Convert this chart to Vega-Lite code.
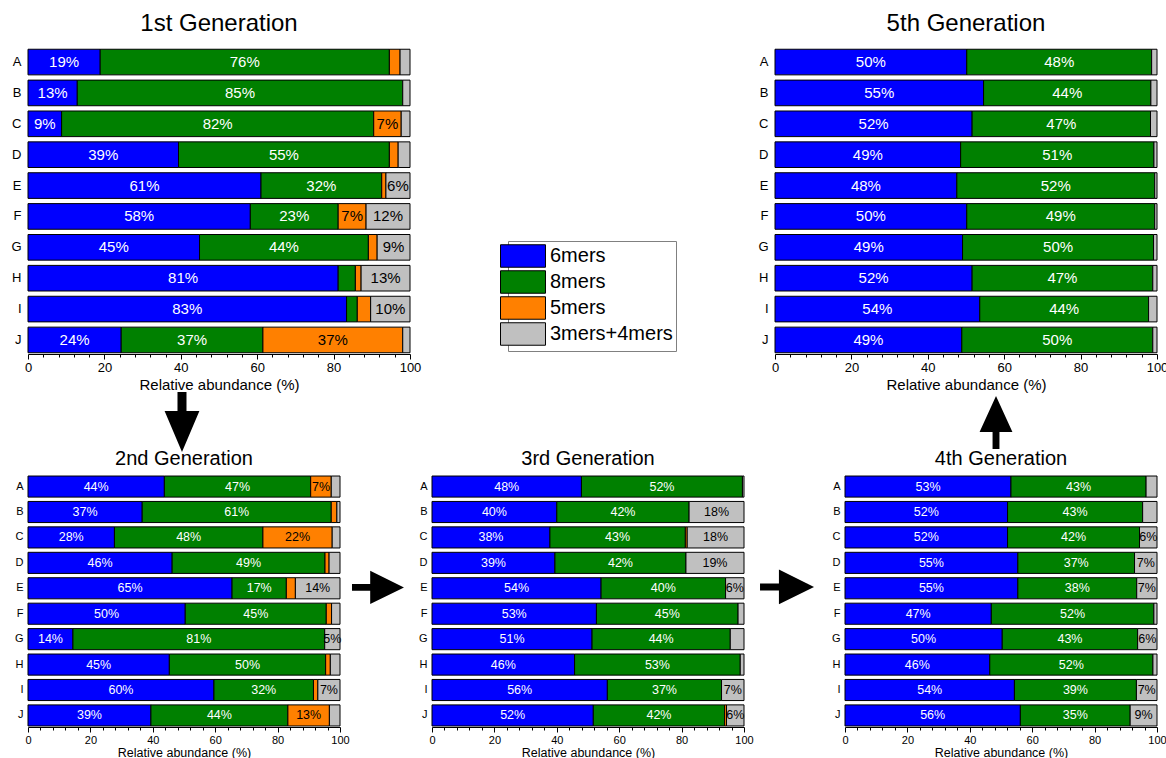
{
"$schema": "https://vega.github.io/schema/vega-lite/v6.json",
"padding": {"left": 10, "top": 12, "right": 0, "bottom": 0},
"datasets": {"d": [
{"g":"1st","s":"A","6mers":18.9,"8mers":75.7,"5mers":2.8,"3mers+4mers":2.6},
{"g":"1st","s":"B","6mers":12.9,"8mers":85.2,"5mers":0,"3mers+4mers":1.9},
{"g":"1st","s":"C","6mers":8.8,"8mers":81.7,"5mers":7.2,"3mers+4mers":2.3},
{"g":"1st","s":"D","6mers":39.4,"8mers":55.2,"5mers":2.3,"3mers+4mers":3.1},
{"g":"1st","s":"E","6mers":61.0,"8mers":31.6,"5mers":1.1,"3mers+4mers":6.3},
{"g":"1st","s":"F","6mers":58.2,"8mers":23.0,"5mers":7.3,"3mers+4mers":11.5},
{"g":"1st","s":"G","6mers":44.9,"8mers":44.2,"5mers":2.3,"3mers+4mers":8.6},
{"g":"1st","s":"H","6mers":81.2,"8mers":4.5,"5mers":1.5,"3mers+4mers":12.8},
{"g":"1st","s":"I","6mers":83.4,"8mers":2.8,"5mers":3.5,"3mers+4mers":10.3},
{"g":"1st","s":"J","6mers":24.4,"8mers":37.1,"5mers":36.6,"3mers+4mers":1.9},
{"g":"2nd","s":"A","6mers":43.7,"8mers":46.9,"5mers":6.6,"3mers+4mers":2.8},
{"g":"2nd","s":"B","6mers":36.6,"8mers":60.6,"5mers":1.8,"3mers+4mers":1.0},
{"g":"2nd","s":"C","6mers":27.7,"8mers":47.6,"5mers":22.2,"3mers+4mers":2.5},
{"g":"2nd","s":"D","6mers":46.2,"8mers":49.0,"5mers":1.3,"3mers+4mers":3.5},
{"g":"2nd","s":"E","6mers":65.4,"8mers":17.4,"5mers":2.9,"3mers+4mers":14.3},
{"g":"2nd","s":"F","6mers":50.4,"8mers":45.2,"5mers":1.7,"3mers+4mers":2.7},
{"g":"2nd","s":"G","6mers":14.4,"8mers":80.7,"5mers":0,"3mers+4mers":4.9},
{"g":"2nd","s":"H","6mers":45.3,"8mers":50.1,"5mers":1.5,"3mers+4mers":3.1},
{"g":"2nd","s":"I","6mers":59.6,"8mers":31.9,"5mers":1.4,"3mers+4mers":7.1},
{"g":"2nd","s":"J","6mers":39.4,"8mers":43.9,"5mers":13.3,"3mers+4mers":3.4},
{"g":"3rd","s":"A","6mers":47.9,"8mers":51.6,"5mers":0,"3mers+4mers":0.5},
{"g":"3rd","s":"B","6mers":40.0,"8mers":42.4,"5mers":0,"3mers+4mers":17.6},
{"g":"3rd","s":"C","6mers":37.8,"8mers":43.4,"5mers":0.6,"3mers+4mers":18.2},
{"g":"3rd","s":"D","6mers":39.4,"8mers":42.0,"5mers":0,"3mers+4mers":18.6},
{"g":"3rd","s":"E","6mers":54.2,"8mers":39.9,"5mers":0,"3mers+4mers":5.9},
{"g":"3rd","s":"F","6mers":52.7,"8mers":45.4,"5mers":0,"3mers+4mers":1.9},
{"g":"3rd","s":"G","6mers":51.3,"8mers":44.3,"5mers":0,"3mers+4mers":4.4},
{"g":"3rd","s":"H","6mers":45.7,"8mers":53.1,"5mers":0,"3mers+4mers":1.2},
{"g":"3rd","s":"I","6mers":56.2,"8mers":36.6,"5mers":0,"3mers+4mers":7.2},
{"g":"3rd","s":"J","6mers":51.7,"8mers":42.1,"5mers":0.6,"3mers+4mers":5.6},
{"g":"4th","s":"A","6mers":53.2,"8mers":43.3,"5mers":0,"3mers+4mers":3.5},
{"g":"4th","s":"B","6mers":52.1,"8mers":43.3,"5mers":0,"3mers+4mers":4.6},
{"g":"4th","s":"C","6mers":52.1,"8mers":42.3,"5mers":0,"3mers+4mers":5.6},
{"g":"4th","s":"D","6mers":55.4,"8mers":37.4,"5mers":0,"3mers+4mers":7.2},
{"g":"4th","s":"E","6mers":55.4,"8mers":38.1,"5mers":0,"3mers+4mers":6.5},
{"g":"4th","s":"F","6mers":46.9,"8mers":52.1,"5mers":0,"3mers+4mers":1.0},
{"g":"4th","s":"G","6mers":50.4,"8mers":43.4,"5mers":0,"3mers+4mers":6.2},
{"g":"4th","s":"H","6mers":46.4,"8mers":52.3,"5mers":0,"3mers+4mers":1.3},
{"g":"4th","s":"I","6mers":54.3,"8mers":39.1,"5mers":0,"3mers+4mers":6.6},
{"g":"4th","s":"J","6mers":56.2,"8mers":35.2,"5mers":0,"3mers+4mers":8.6},
{"g":"5th","s":"A","6mers":50.2,"8mers":48.4,"5mers":0,"3mers+4mers":1.4},
{"g":"5th","s":"B","6mers":54.6,"8mers":43.8,"5mers":0,"3mers+4mers":1.6},
{"g":"5th","s":"C","6mers":51.6,"8mers":46.7,"5mers":0,"3mers+4mers":1.7},
{"g":"5th","s":"D","6mers":48.6,"8mers":50.6,"5mers":0,"3mers+4mers":0.8},
{"g":"5th","s":"E","6mers":47.6,"8mers":51.8,"5mers":0,"3mers+4mers":0.6},
{"g":"5th","s":"F","6mers":50.2,"8mers":49.2,"5mers":0,"3mers+4mers":0.6},
{"g":"5th","s":"G","6mers":49.1,"8mers":50.0,"5mers":0,"3mers+4mers":0.9},
{"g":"5th","s":"H","6mers":51.6,"8mers":47.3,"5mers":0,"3mers+4mers":1.1},
{"g":"5th","s":"I","6mers":53.6,"8mers":44.2,"5mers":0,"3mers+4mers":2.2},
{"g":"5th","s":"J","6mers":48.9,"8mers":50.0,"5mers":0,"3mers+4mers":1.1}
]},
"spacing": -12,
"vconcat": [
{"hconcat": [
 {"width": 382, "height": 306,
  "title": {"text": "1st Generation", "fontSize": 24, "offset": 12},
  "data": {"name": "d"},
  "transform": [
   {"filter": "datum.g === '1st'"},
   {"fold": ["6mers","8mers","5mers","3mers+4mers"], "as": ["type","v"]},
   {"calculate": "indexof(['6mers','8mers','5mers','3mers+4mers'], datum.type)", "as": "ord"},
   {"stack": "v", "groupby": ["s"], "sort": [{"field": "ord", "order": "ascending"}], "as": ["x0","x1"]},
   {"calculate": "(datum.x0+datum.x1)/2", "as": "mid"},
   {"calculate": "round(datum.v)+'%'", "as": "lab"}
  ],
  "encoding": {"y": {"field": "s", "type": "nominal", "title": null, "scale": {"paddingInner": 0.17, "paddingOuter": 0.04}, "axis": {"ticks": false, "domain": false, "labelFontSize": 13, "labelPadding": 7}}},
  "layer": [
   {"transform": [{"filter": "datum.v > 0"}],
    "mark": {"type": "bar", "stroke": "black", "strokeWidth": 1},
    "encoding": {
     "x": {"field": "x0", "type": "quantitative", "scale": {"domain": [0,100], "nice": false}, "axis": {"orient": "bottom", "values": [0,20,40,60,80,100], "tickSize": 5, "labelFontSize": 13, "labelFlush": false, "labelPadding": 2, "title": "Relative abundance (%)", "titleFontSize": 15, "titlePadding": 3}},
     "x2": {"field": "x1"},
     "color": {"field": "type", "type": "nominal", "scale": {"domain": ["6mers","8mers","5mers","3mers+4mers"], "range": ["#0000ff","#008000","#ff8000","#c0c0c0"]},
      "legend": {"orient": "none", "legendX": 480, "legendY": 193, "title": null, "symbolType": "M-2,-1H2V1H-2Z", "symbolSize": 506, "symbolStrokeColor": "black", "symbolStrokeWidth": 1, "symbolOpacity": 1, "labelFontSize": 20, "labelColor": "black", "strokeColor": "#808080", "fillColor": "white", "padding": 3, "rowPadding": -2.5, "labelOffset": 15}}
    }},
   {"transform": [{"filter": "datum.v >= 4.8"}],
    "mark": {"type": "text", "fontSize": 15},
    "encoding": {
     "x": {"field": "mid", "type": "quantitative", "axis": {"orient": "bottom", "values": [4,8,12,16,24,28,32,36,44,48,52,56,64,68,72,76,84,88,92,96], "tickSize": 3, "labels": false, "domain": false, "title": null}},
     "text": {"field": "lab"},
     "color": {"condition": {"test": "datum.ord < 2", "value": "white"}, "value": "black"}
    }}
  ],
  "resolve": {"axis": {"x": "independent"}}
 },
 {"width": 382, "height": 306,
  "title": {"text": "5th Generation", "fontSize": 24, "offset": 12},
  "data": {"name": "d"},
  "transform": [
   {"filter": "datum.g === '5th'"},
   {"fold": ["6mers","8mers","5mers","3mers+4mers"], "as": ["type","v"]},
   {"calculate": "indexof(['6mers','8mers','5mers','3mers+4mers'], datum.type)", "as": "ord"},
   {"stack": "v", "groupby": ["s"], "sort": [{"field": "ord", "order": "ascending"}], "as": ["x0","x1"]},
   {"calculate": "(datum.x0+datum.x1)/2", "as": "mid"},
   {"calculate": "round(datum.v)+'%'", "as": "lab"}
  ],
  "encoding": {"y": {"field": "s", "type": "nominal", "title": null, "scale": {"paddingInner": 0.17, "paddingOuter": 0.04}, "axis": {"ticks": false, "domain": false, "labelFontSize": 13, "labelPadding": 7}}},
  "layer": [
   {"transform": [{"filter": "datum.v > 0"}],
    "mark": {"type": "bar", "stroke": "black", "strokeWidth": 1},
    "encoding": {
     "x": {"field": "x0", "type": "quantitative", "scale": {"domain": [0,100], "nice": false}, "axis": {"orient": "bottom", "values": [0,20,40,60,80,100], "tickSize": 5, "labelFontSize": 13, "labelFlush": false, "labelPadding": 2, "title": "Relative abundance (%)", "titleFontSize": 15, "titlePadding": 3}},
     "x2": {"field": "x1"},
     "color": {"field": "type", "type": "nominal", "scale": {"domain": ["6mers","8mers","5mers","3mers+4mers"], "range": ["#0000ff","#008000","#ff8000","#c0c0c0"]}, "legend": null}
    }},
   {"transform": [{"filter": "datum.v >= 4.8"}],
    "mark": {"type": "text", "fontSize": 15},
    "encoding": {
     "x": {"field": "mid", "type": "quantitative", "axis": {"orient": "bottom", "values": [4,8,12,16,24,28,32,36,44,48,52,56,64,68,72,76,84,88,92,96], "tickSize": 3, "labels": false, "domain": false, "title": null}},
     "text": {"field": "lab"},
     "color": {"condition": {"test": "datum.ord < 2", "value": "white"}, "value": "black"}
    }}
  ],
  "resolve": {"axis": {"x": "independent"}}
 }
],
"spacing": 365, "bounds": "flush", "resolve": {"legend": {"color": "independent"}}},
{"width": 1129, "height": 69, "data": {"values": [{}]},
 "layer": [
  {"mark": {"type": "point", "shape": "M-0.15,-1L0.15,-1L0.15,-0.37L0.58,-0.37L0,1L-0.58,-0.37L-0.15,-0.37Z", "size": 3600, "filled": true, "color": "black", "opacity": 1, "strokeWidth": 0},
   "encoding": {"x": {"datum": 0.1364, "type": "quantitative", "scale": {"domain": [0,1], "nice": false, "zero": false}, "axis": null}, "y": {"datum": 0.435, "type": "quantitative", "scale": {"domain": [0,1], "reverse": true, "nice": false, "zero": false}, "axis": null}}},
  {"mark": {"type": "point", "shape": "M-0.13,1L-0.13,0.36L-0.62,0.36L0,-1L0.62,0.36L0.13,0.36L0.13,1Z", "size": 2809, "filled": true, "color": "black", "opacity": 1, "strokeWidth": 0},
   "encoding": {"x": {"datum": 0.8574, "type": "quantitative", "scale": {"domain": [0,1], "nice": false, "zero": false}, "axis": null}, "y": {"datum": 0.442, "type": "quantitative", "scale": {"domain": [0,1], "reverse": true, "nice": false, "zero": false}, "axis": null}}}
 ]
},
{"hconcat": [
 {"width": 312, "height": 252,
  "title": {"text": "2nd Generation", "fontSize": 20, "offset": 6},
  "data": {"name": "d"},
  "transform": [
   {"filter": "datum.g === '2nd'"},
   {"fold": ["6mers","8mers","5mers","3mers+4mers"], "as": ["type","v"]},
   {"calculate": "indexof(['6mers','8mers','5mers','3mers+4mers'], datum.type)", "as": "ord"},
   {"stack": "v", "groupby": ["s"], "sort": [{"field": "ord", "order": "ascending"}], "as": ["x0","x1"]},
   {"calculate": "(datum.x0+datum.x1)/2", "as": "mid"},
   {"calculate": "round(datum.v)+'%'", "as": "lab"}
  ],
  "encoding": {"y": {"field": "s", "type": "nominal", "title": null, "scale": {"paddingInner": 0.17, "paddingOuter": 0.04}, "axis": {"ticks": false, "domain": false, "labelFontSize": 11, "labelPadding": 5}}},
  "layer": [
   {"transform": [{"filter": "datum.v > 0"}],
    "mark": {"type": "bar", "stroke": "black", "strokeWidth": 1},
    "encoding": {
     "x": {"field": "x0", "type": "quantitative", "scale": {"domain": [0,100], "nice": false}, "axis": {"orient": "bottom", "values": [0,20,40,60,80,100], "tickSize": 5, "labelFontSize": 11, "labelFlush": false, "labelPadding": 2, "title": "Relative abundance (%)", "titleFontSize": 12.5, "titlePadding": 1}},
     "x2": {"field": "x1"},
     "color": {"field": "type", "type": "nominal", "scale": {"domain": ["6mers","8mers","5mers","3mers+4mers"], "range": ["#0000ff","#008000","#ff8000","#c0c0c0"]}, "legend": null}
    }},
   {"transform": [{"filter": "datum.v >= 4.8"}],
    "mark": {"type": "text", "fontSize": 12.5},
    "encoding": {
     "x": {"field": "mid", "type": "quantitative", "axis": {"orient": "bottom", "values": [4,8,12,16,24,28,32,36,44,48,52,56,64,68,72,76,84,88,92,96], "tickSize": 3, "labels": false, "domain": false, "title": null}},
     "text": {"field": "lab"},
     "color": {"condition": {"test": "datum.ord < 2", "value": "white"}, "value": "black"}
    }}
  ],
  "resolve": {"axis": {"x": "independent"}}
 },
 {"width": 92, "height": 252, "data": {"values": [{}]},
  "mark": {"type": "point", "shape": "M-1,-0.13L-0.3,-0.13L-0.3,-0.64L1,0L-0.3,0.64L-0.3,0.13L-1,0.13Z", "size": 2704, "filled": true, "color": "black", "opacity": 1, "strokeWidth": 0},
  "encoding": {"x": {"datum": 0.413, "type": "quantitative", "scale": {"domain": [0,1], "nice": false, "zero": false}, "axis": null}, "y": {"datum": 0.446, "type": "quantitative", "scale": {"domain": [0,1], "reverse": true, "nice": false, "zero": false}, "axis": null}}
 },
 {"width": 312, "height": 252,
  "title": {"text": "3rd Generation", "fontSize": 20, "offset": 6},
  "data": {"name": "d"},
  "transform": [
   {"filter": "datum.g === '3rd'"},
   {"fold": ["6mers","8mers","5mers","3mers+4mers"], "as": ["type","v"]},
   {"calculate": "indexof(['6mers','8mers','5mers','3mers+4mers'], datum.type)", "as": "ord"},
   {"stack": "v", "groupby": ["s"], "sort": [{"field": "ord", "order": "ascending"}], "as": ["x0","x1"]},
   {"calculate": "(datum.x0+datum.x1)/2", "as": "mid"},
   {"calculate": "round(datum.v)+'%'", "as": "lab"}
  ],
  "encoding": {"y": {"field": "s", "type": "nominal", "title": null, "scale": {"paddingInner": 0.17, "paddingOuter": 0.04}, "axis": {"ticks": false, "domain": false, "labelFontSize": 11, "labelPadding": 5}}},
  "layer": [
   {"transform": [{"filter": "datum.v > 0"}],
    "mark": {"type": "bar", "stroke": "black", "strokeWidth": 1},
    "encoding": {
     "x": {"field": "x0", "type": "quantitative", "scale": {"domain": [0,100], "nice": false}, "axis": {"orient": "bottom", "values": [0,20,40,60,80,100], "tickSize": 5, "labelFontSize": 11, "labelFlush": false, "labelPadding": 2, "title": "Relative abundance (%)", "titleFontSize": 12.5, "titlePadding": 1}},
     "x2": {"field": "x1"},
     "color": {"field": "type", "type": "nominal", "scale": {"domain": ["6mers","8mers","5mers","3mers+4mers"], "range": ["#0000ff","#008000","#ff8000","#c0c0c0"]}, "legend": null}
    }},
   {"transform": [{"filter": "datum.v >= 4.8"}],
    "mark": {"type": "text", "fontSize": 12.5},
    "encoding": {
     "x": {"field": "mid", "type": "quantitative", "axis": {"orient": "bottom", "values": [4,8,12,16,24,28,32,36,44,48,52,56,64,68,72,76,84,88,92,96], "tickSize": 3, "labels": false, "domain": false, "title": null}},
     "text": {"field": "lab"},
     "color": {"condition": {"test": "datum.ord < 2", "value": "white"}, "value": "black"}
    }}
  ],
  "resolve": {"axis": {"x": "independent"}}
 },
 {"width": 101, "height": 252, "data": {"values": [{}]},
  "mark": {"type": "point", "shape": "M-1,-0.13L-0.3,-0.13L-0.3,-0.64L1,0L-0.3,0.64L-0.3,0.13L-1,0.13Z", "size": 2916, "filled": true, "color": "black", "opacity": 1, "strokeWidth": 0},
  "encoding": {"x": {"datum": 0.426, "type": "quantitative", "scale": {"domain": [0,1], "nice": false, "zero": false}, "axis": null}, "y": {"datum": 0.444, "type": "quantitative", "scale": {"domain": [0,1], "reverse": true, "nice": false, "zero": false}, "axis": null}}
 },
 {"width": 312, "height": 252,
  "title": {"text": "4th Generation", "fontSize": 20, "offset": 6},
  "data": {"name": "d"},
  "transform": [
   {"filter": "datum.g === '4th'"},
   {"fold": ["6mers","8mers","5mers","3mers+4mers"], "as": ["type","v"]},
   {"calculate": "indexof(['6mers','8mers','5mers','3mers+4mers'], datum.type)", "as": "ord"},
   {"stack": "v", "groupby": ["s"], "sort": [{"field": "ord", "order": "ascending"}], "as": ["x0","x1"]},
   {"calculate": "(datum.x0+datum.x1)/2", "as": "mid"},
   {"calculate": "round(datum.v)+'%'", "as": "lab"}
  ],
  "encoding": {"y": {"field": "s", "type": "nominal", "title": null, "scale": {"paddingInner": 0.17, "paddingOuter": 0.04}, "axis": {"ticks": false, "domain": false, "labelFontSize": 11, "labelPadding": 5}}},
  "layer": [
   {"transform": [{"filter": "datum.v > 0"}],
    "mark": {"type": "bar", "stroke": "black", "strokeWidth": 1},
    "encoding": {
     "x": {"field": "x0", "type": "quantitative", "scale": {"domain": [0,100], "nice": false}, "axis": {"orient": "bottom", "values": [0,20,40,60,80,100], "tickSize": 5, "labelFontSize": 11, "labelFlush": false, "labelPadding": 2, "title": "Relative abundance (%)", "titleFontSize": 12.5, "titlePadding": 1}},
     "x2": {"field": "x1"},
     "color": {"field": "type", "type": "nominal", "scale": {"domain": ["6mers","8mers","5mers","3mers+4mers"], "range": ["#0000ff","#008000","#ff8000","#c0c0c0"]}, "legend": null}
    }},
   {"transform": [{"filter": "datum.v >= 4.8"}],
    "mark": {"type": "text", "fontSize": 12.5},
    "encoding": {
     "x": {"field": "mid", "type": "quantitative", "axis": {"orient": "bottom", "values": [4,8,12,16,24,28,32,36,44,48,52,56,64,68,72,76,84,88,92,96], "tickSize": 3, "labels": false, "domain": false, "title": null}},
     "text": {"field": "lab"},
     "color": {"condition": {"test": "datum.ord < 2", "value": "white"}, "value": "black"}
    }}
  ],
  "resolve": {"axis": {"x": "independent"}}
 }
],
"spacing": 0, "bounds": "flush"}
],
"config": {
 "font": "Liberation Sans",
 "view": {"stroke": null},
 "axis": {"grid": false, "domainColor": "black", "tickColor": "black", "labelColor": "black", "titleColor": "black", "titleFontWeight": "normal"},
 "title": {"fontWeight": "normal", "color": "black"}
}
}
